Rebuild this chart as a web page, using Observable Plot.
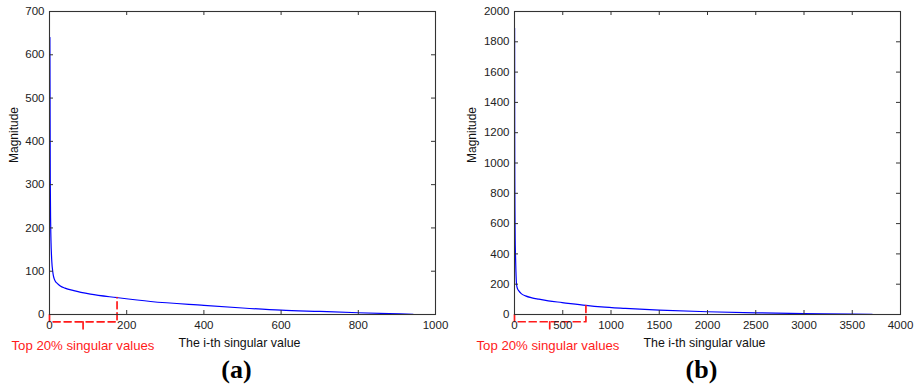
<!DOCTYPE html>
<html><head><meta charset="utf-8">
<script src="https://cdn.jsdelivr.net/npm/d3@7"></script>
<script src="https://cdn.jsdelivr.net/npm/@observablehq/plot@0.6"></script>
<style>
html,body{margin:0;padding:0;background:#fff;}
#wrap{position:relative;width:917px;height:391px;display:flex;}
#wrap svg{display:block;background:#fff;}
</style></head><body><div id="wrap"></div>
<script>
// Panel (a)
const idxA = [1,2,3,4,5,6,8,10,12,15,20,28,40,63,106,175,262,400,500,600,700,800,880,942];
const magA = [640,310,210,165,140,122,102,90,83,77,72,66,61,55,47,39,30,21,15,10,7,4,2,0.5];
const xTicksA = [0,200,400,600,800,1000];
const yTicksA = [0,100,200,300,400,500,600,700];
const bracketXA = [0,0,175,175];
const bracketYA = [0,-17,-17,39];
const braceTipXA = [87,87];
const braceTipYA = [-17,-34];

// Panel (b)
const idxB = [1,2,3,5,7,10,15,21,30,45,70,114,180,252,350,494,740,900,1150,1500,2000,2500,3000,3500,3707];
const magB = [1890,1200,900,650,500,400,280,200,172,156,138,123,110,101,90,79,60,50,40,29,18,11,6,2.5,0.5];
const xTicksB = [0,500,1000,1500,2000,2500,3000,3500,4000];
const yTicksB = [0,200,400,600,800,1000,1200,1400,1600,1800,2000];
const bracketXB = [0,0,740,740];
const bracketYB = [0,-48,-48,58];
const braceTipXB = [365,365];
const braceTipYB = [-48,-96];

const xLabel = "The i-th singular value";
const yLabel = "Magnitude";
const noteText = "Top 20% singular values";
const panelNames = ["(a)", "(b)"];

const FONT = "'Liberation Sans', Arial, Helvetica, sans-serif";

function panel({width, marginLeft, marginRight, idx, mag, xTicks, yTicks, bx, by, tx, ty, name, yLabelDx}) {
  const mT = 11, mB = 77, H = 391;
  const fw = width - marginLeft - marginRight;
  const fh = H - mT - mB;
  const series = idx.map((x, i) => ({x, y: mag[i]}));
  const bracket = bx.map((x, i) => ({x, y: by[i], z: "b"})).concat(tx.map((x, i) => ({x, y: ty[i], z: "t"})));
  return Plot.plot({
    width, height: H,
    marginLeft, marginRight, marginTop: mT, marginBottom: mB,
    style: {fontFamily: FONT, fontSize: "11.5px", color: "#222", background: "#fff"},
    x: {domain: [xTicks[0], xTicks[xTicks.length - 1]], label: null},
    y: {domain: [yTicks[0], yTicks[yTicks.length - 1]], label: null},
    marks: [
      Plot.line(series, {x: "x", y: "y", stroke: "#0000ff", strokeWidth: 1.2, curve: "monotone-x"}),
      Plot.line(bracket, {x: "x", y: "y", z: "z", stroke: "#ff1a1a", strokeWidth: 1.7, strokeDasharray: "7,4"}),
      Plot.frame({stroke: "#333", strokeWidth: 1.1}),
      Plot.tickX(xTicks, {x: d => d, stroke: "#333", insetTop: fh - 4}),
      Plot.tickX(xTicks, {x: d => d, stroke: "#333", insetBottom: fh - 4}),
      Plot.tickY(yTicks, {y: d => d, stroke: "#333", insetRight: fw - 4}),
      Plot.tickY(yTicks, {y: d => d, stroke: "#333", insetLeft: fw - 4}),
      Plot.axisX({ticks: xTicks, tickSize: 0, tickPadding: 6, tickFormat: d => String(d), fill: "#222", label: null}),
      Plot.axisY({ticks: yTicks, tickSize: 0, tickPadding: 5, tickFormat: d => String(d), fill: "#222", label: null}),
      Plot.text([xLabel], {text: d => d, frameAnchor: "bottom", dx: -3, dy: 32, fontSize: 12.4, fill: "#111"}),
      Plot.text([yLabel], {text: d => d, frameAnchor: "left", dx: yLabelDx, rotate: -90, fontSize: 12, fill: "#111"}),
      Plot.text([noteText], {text: d => d, frameAnchor: "bottom-left", dx: -38, dy: 35, textAnchor: "start", fontSize: 13.2, fill: "#ff1a1a"}),
      Plot.text([name], {text: d => d, frameAnchor: "bottom", dx: -6, dy: 63, fontSize: 26, fontWeight: "bold", fontFamily: "'Liberation Serif', 'Times New Roman', serif", fill: "#000"})
    ]
  });
}

const wrap = document.getElementById("wrap");
wrap.appendChild(panel({width: 458, marginLeft: 49, marginRight: 23, idx: idxA, mag: magA, xTicks: xTicksA, yTicks: yTicksA,
  bx: bracketXA, by: bracketYA, tx: braceTipXA, ty: braceTipYA, name: panelNames[0], yLabelDx: -35}));
wrap.appendChild(panel({width: 459, marginLeft: 56, marginRight: 17, idx: idxB, mag: magB, xTicks: xTicksB, yTicks: yTicksB,
  bx: bracketXB, by: bracketYB, tx: braceTipXB, ty: braceTipYB, name: panelNames[1], yLabelDx: -42}));
</script></body></html>
